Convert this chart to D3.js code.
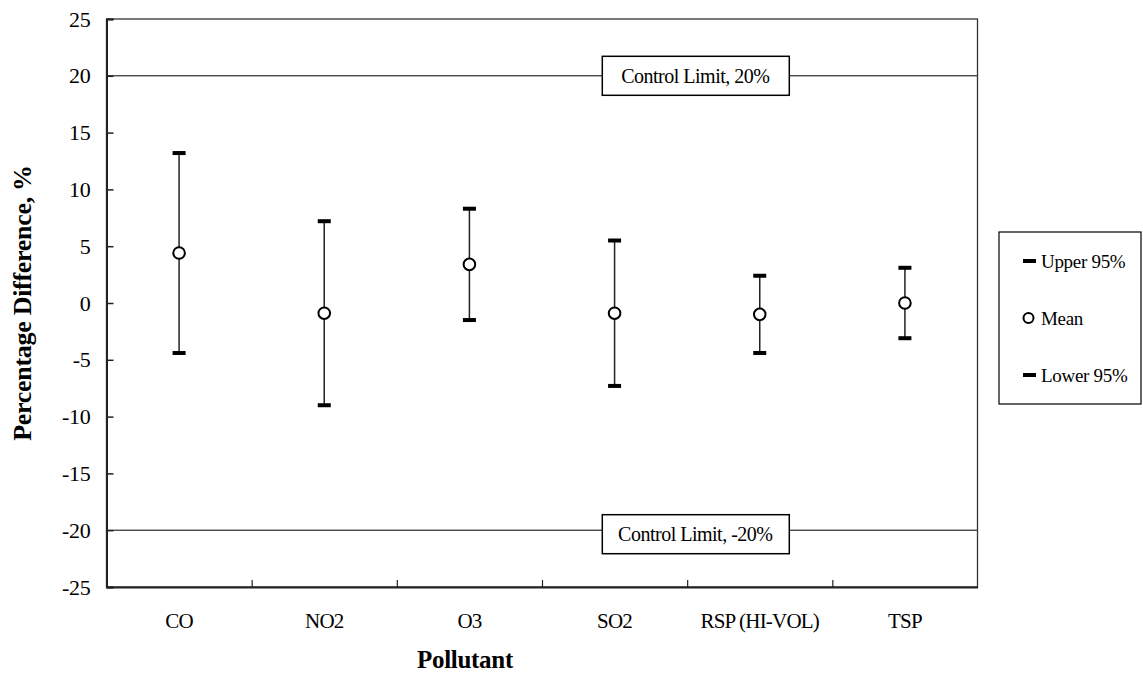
<!DOCTYPE html>
<html>
<head>
<meta charset="utf-8">
<script src="https://cdn.jsdelivr.net/npm/d3@7"></script>
<style>
  body { margin: 0; background: #fff; }
  text { font-family: "Liberation Serif", "Times New Roman", serif; fill: #000; }
</style>
</head>
<body>
<svg id="chart"></svg>
<script>
const width = 1143;
const height = 698;

const margins = { left: 106.5, right: 165.5, top: 19, bottom: 111 };

const pollutants = ['CO', 'NO2', 'O3', 'SO2', 'RSP (HI-VOL)', 'TSP'];
const upper95 = [13.2, 7.2, 8.3, 5.5, 2.4, 3.1];
const means = [4.4, -0.9, 3.4, -0.9, -1.0, 0.0];
const lower95 = [-4.4, -9.0, -1.5, -7.3, -4.4, -3.1];
const yTicks = [-25, -20, -15, -10, -5, 0, 5, 10, 15, 20, 25];
const controlLimits = [
  { value: 20, label: 'Control Limit, 20%' },
  { value: -20, label: 'Control Limit, -20%' }
];
const legendItems = ['Upper 95%', 'Mean', 'Lower 95%'];

const svg = d3.select('#chart')
    .attr('width', width)
    .attr('height', height);

const xScale = d3.scaleBand()
    .domain(pollutants)
    .range([margins.left, width - margins.right]);

const yScale = d3.scaleLinear()
    .domain([-25, 25])
    .range([height - margins.bottom, margins.top]);

const plotW = width - margins.left - margins.right;
const plotH = height - margins.top - margins.bottom;

// control limit lines
svg.append('g')
  .selectAll('line')
  .data(controlLimits)
  .join('line')
    .attr('x1', margins.left)
    .attr('x2', width - margins.right)
    .attr('y1', d => yScale(d.value))
    .attr('y2', d => yScale(d.value))
    .attr('stroke', '#000')
    .attr('stroke-width', 1);

// frame
svg.append('rect')
    .attr('x', margins.left)
    .attr('y', margins.top)
    .attr('width', plotW)
    .attr('height', plotH)
    .attr('fill', 'none')
    .attr('stroke', '#333')
    .attr('stroke-width', 1.3);

// y axis, ticks pointing inward
const yAxis = d3.axisLeft(yScale)
    .tickValues(yTicks)
    .tickFormat(d => String(d))
    .tickSize(-7)
    .tickPadding(16);

const yg = svg.append('g')
    .attr('transform', `translate(${margins.left},0)`)
    .call(yAxis);
yg.select('.domain').attr('stroke', '#222').attr('stroke-width', 2);
yg.selectAll('.tick line').attr('stroke', '#222').attr('stroke-width', 1.5);
yg.selectAll('.tick text')
    .style('font-family', '"Liberation Serif", "Times New Roman", serif')
    .style('font-size', '22px')
    .style('letter-spacing', '-0.3px');

// x axis: labels at centres, ticks at the category boundaries
const xAxis = d3.axisBottom(xScale)
    .tickSize(0)
    .tickPadding(26);

const xg = svg.append('g')
    .attr('transform', `translate(0,${height - margins.bottom})`)
    .call(xAxis);
xg.select('.domain').attr('stroke', '#222').attr('stroke-width', 2);
xg.selectAll('.tick text')
    .style('font-family', '"Liberation Serif", "Times New Roman", serif')
    .style('font-size', '21px')
    .style('letter-spacing', '-0.8px');

const boundary = d3.scaleLinear()
    .domain([0, pollutants.length])
    .range(xScale.range());

const bg = svg.append('g')
    .attr('transform', `translate(0,${height - margins.bottom})`)
    .call(d3.axisBottom(boundary).tickValues(d3.range(1, pollutants.length)).tickSize(-7).tickFormat(''));
bg.select('.domain').remove();
bg.selectAll('.tick line').attr('stroke', '#222').attr('stroke-width', 1.2);

// control limit labels
const limitLabels = svg.append('g')
  .selectAll('g')
  .data(controlLimits)
  .join('g')
    .attr('transform', d => `translate(${margins.left + plotW * 0.676},${yScale(d.value) + (d.value < 0 ? 4 : 0)})`);

limitLabels.append('rect')
    .attr('x', -93)
    .attr('y', -19.5)
    .attr('width', 187)
    .attr('height', 39)
    .attr('fill', '#fff')
    .attr('stroke', '#000')
    .attr('stroke-width', 1.5);

limitLabels.append('text')
    .attr('text-anchor', 'middle')
    .attr('dy', '0.35em')
    .style('font-size', '20px')
    .style('letter-spacing', '-0.5px')
    .text(d => d.label);

// error bars
const rows = pollutants.map((p, i) => ({ p, hi: upper95[i], mean: means[i], lo: lower95[i] }));
const cx = d => xScale(d.p) + xScale.bandwidth() / 2;

const bars = svg.append('g')
  .selectAll('g')
  .data(rows)
  .join('g');

bars.append('line')
    .attr('x1', cx)
    .attr('x2', cx)
    .attr('y1', d => yScale(d.hi))
    .attr('y2', d => yScale(d.lo))
    .attr('stroke', '#222')
    .attr('stroke-width', 1.5);

bars.append('rect')
    .attr('x', d => cx(d) - 6.5)
    .attr('y', d => yScale(d.hi) - 2)
    .attr('width', 13)
    .attr('height', 4)
    .attr('fill', '#000');

bars.append('rect')
    .attr('x', d => cx(d) - 6.5)
    .attr('y', d => yScale(d.lo) - 2)
    .attr('width', 13)
    .attr('height', 4)
    .attr('fill', '#000');

bars.append('circle')
    .attr('cx', cx)
    .attr('cy', d => yScale(d.mean))
    .attr('r', 5.8)
    .attr('fill', '#fff')
    .attr('stroke', '#000')
    .attr('stroke-width', 2);

// legend
const legend = svg.append('g')
    .attr('transform', 'translate(999,232)');

legend.append('rect')
    .attr('width', 142)
    .attr('height', 172)
    .attr('fill', '#fff')
    .attr('stroke', '#000')
    .attr('stroke-width', 1.2);

const li = legend.selectAll('g.item')
  .data(legendItems)
  .join('g')
    .attr('class', 'item')
    .attr('transform', (d, i) => `translate(0,${29 + i * 57})`);

li.filter(d => d !== 'Mean').append('rect')
    .attr('x', 24)
    .attr('y', -2)
    .attr('width', 13)
    .attr('height', 4)
    .attr('fill', '#000');

li.filter(d => d === 'Mean').append('circle')
    .attr('cx', 29.5)
    .attr('cy', 0)
    .attr('r', 5)
    .attr('fill', '#fff')
    .attr('stroke', '#000')
    .attr('stroke-width', 2);

li.append('text')
    .attr('x', 42)
    .attr('dy', '0.35em')
    .style('font-size', '19px')
    .style('letter-spacing', '-0.3px')
    .text(d => d);

// axis titles
svg.append('text')
    .attr('transform', `translate(31,${margins.top + plotH / 2}) rotate(-90)`)
    .attr('text-anchor', 'middle')
    .style('font-size', '26px')
    .style('font-weight', 'bold')
    .style('letter-spacing', '-0.3px')
    .text('Percentage Difference, %');

svg.append('text')
    .attr('x', 465)
    .attr('y', 668)
    .attr('text-anchor', 'middle')
    .style('font-size', '25px')
    .style('font-weight', 'bold')
    .style('letter-spacing', '-0.3px')
    .text('Pollutant');
</script>
</body>
</html>
